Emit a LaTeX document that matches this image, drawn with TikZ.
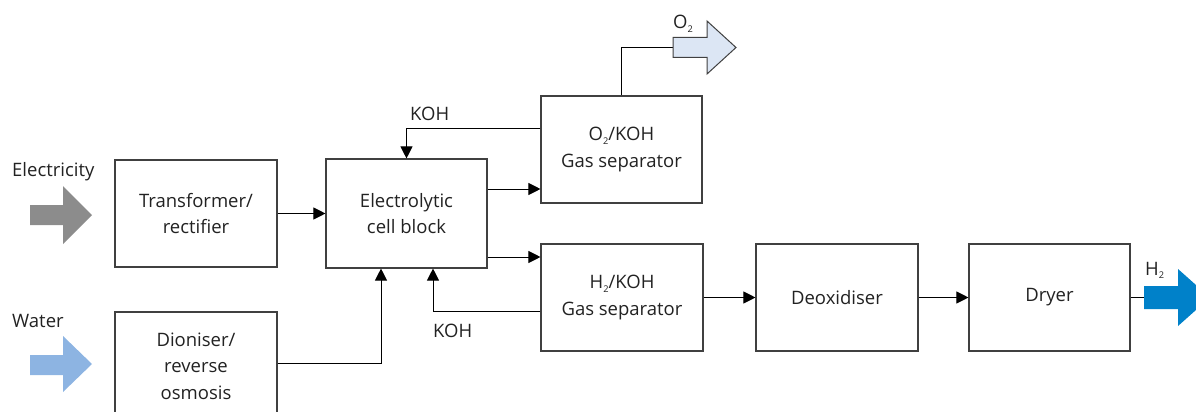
\documentclass[tikz,border=0pt]{standalone}
\usepackage{fontspec}
\usepackage{graphicx}
\setmainfont{Open Sans}
\usetikzlibrary{arrows.meta}
\definecolor{boxline}{HTML}{404040}
\definecolor{txt}{HTML}{222222}
\definecolor{elecgray}{HTML}{8C8C8C}
\definecolor{waterblue}{HTML}{8DB4E2}
\definecolor{oxyfill}{HTML}{DCE6F4}
\definecolor{hydblue}{HTML}{0081C9}
\newcommand\subtwo{\raisebox{-0.35ex}{\scalebox{0.5}{2}}}
\begin{document}
\begin{tikzpicture}[x=1pt,y=-1pt,
  font=\fontsize{18.5}{26.5}\selectfont,
  blk/.style={draw=boxline,line width=1.1pt,rectangle,inner sep=0pt,text=txt,align=center},
  arr/.style={draw=black,line width=1pt,-{Triangle[length=12pt,width=12pt]}},
  ln/.style={draw=black,line width=1pt},
  lbl/.style={text=txt,anchor=base west,inner sep=0pt}]
\useasboundingbox (0,0) rectangle (1196,412);
\clip (0,0) rectangle (1196,412);
% boxes
\node[blk,minimum width=162pt,minimum height=107pt] (tr) at (196,213.5) {Transformer/\\rectifier};
\node[blk,minimum width=162pt,minimum height=108pt] (di) at (196,366) {Dioniser/\\reverse\\osmosis};
\node[blk,minimum width=161pt,minimum height=109pt] (el) at (406.5,213.5) {Electrolytic\\cell block};
\node[blk,minimum width=161pt,minimum height=107pt] (o2) at (621.5,149.5) {O\subtwo/KOH\\Gas separator};
\node[blk,minimum width=162pt,minimum height=107pt] (h2) at (622,297.5) {H\subtwo/KOH\\Gas separator};
\node[blk,minimum width=162pt,minimum height=107pt] (de) at (837,297.5) {Deoxidiser};
\node[blk,minimum width=161pt,minimum height=107pt] (dr) at (1049.5,297.5) {Dryer};
% coordinates
\coordinate (o2tail) at (673,47.5);
\coordinate (h2tail) at (1144,297.5);
% connectors
\draw[arr] (tr.east) -- (el.west);
\draw[arr] (el.east |- 0,189) -- (o2.west |- 0,189);
\draw[arr] (el.east |- 0,257) -- (h2.west |- 0,257);
\draw[arr] (o2.west |- 0,128) -| (el.north);
\draw[arr] (h2.west |- 0,311.5) -| (el.south -| 433,0);
\draw[arr] (di.east |- 0,363) -| (el.south -| 381,0);
\draw[arr] (h2.east) -- (de.west);
\draw[arr] (de.east) -- (dr.west);
\draw[ln] (o2.north) |- (o2tail);
\draw[ln] (dr.east) -- (h2tail);
% block arrows
\fill[elecgray] (30,205) -- (63,205) -- (63,186) -- (92,215) -- (63,244) -- (63,225) -- (30,225) -- cycle;
\fill[waterblue] (30,355) -- (63,355) -- (63,336) -- (92,364) -- (63,392) -- (63,375) -- (30,375) -- cycle;
\draw[draw=boxline,fill=oxyfill,line width=1pt,line join=miter] (o2tail) -- (673,37.5) -- (707,37.5) -- (707,21) -- (736,47.5) -- (707,74) -- (707,57.5) -- (673,57.5) -- cycle;
\fill[hydblue] (1144,286) -- (1178,286) -- (1178,269) -- (1210,297.5) -- (1178,326) -- (1178,309) -- (1144,309) -- cycle;
% labels
\node[lbl] (lelec) at (12,176) {Electricity};
\node[lbl] (lwater) at (12,327) {Water};
\node[lbl] (lkoh1) at (410,120) {KOH};
\node[lbl] (lkoh2) at (433,337) {KOH};
\node[lbl] (lo2) at (673,29) {O\subtwo};
\node[lbl] (lh2) at (1145,275) {H\subtwo};
\end{tikzpicture}
\end{document}
